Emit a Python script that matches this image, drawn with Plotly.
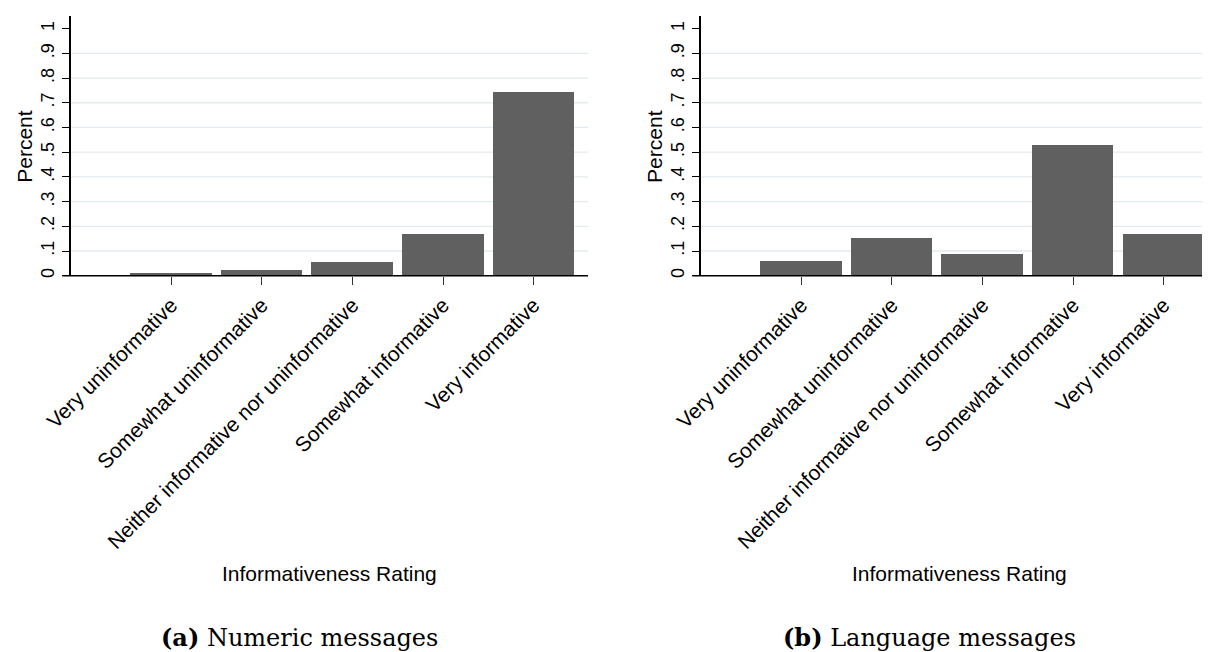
import plotly.graph_objects as go

# ---------------- data ----------------
categories = [
    "Very uninformative",
    "Somewhat uninformative",
    "Neither informative nor uninformative",
    "Somewhat informative",
    "Very informative",
]
numeric_share = [0.008, 0.023, 0.055, 0.169, 0.744]
language_share = [0.059, 0.152, 0.088, 0.529, 0.169]

y_tick_values = [0, 0.1, 0.2, 0.3, 0.4, 0.5, 0.6, 0.7, 0.8, 0.9, 1.0]
y_tick_labels = ["0", ".1", ".2", ".3", ".4", ".5", ".6", ".7", ".8", ".9", "1"]

x_title = "Informativeness Rating"
y_title = "Percent"
panel_captions = ["<b>(a)</b> Numeric messages", "<b>(b)</b> Language messages"]

# ---------------- layout constants ----------------
W, H = 1210, 652
BAR_COLOR = "#606060"
GRID_COLOR = "#e3ebee"
SANS = "Liberation Sans, Arial, Helvetica, sans-serif"
SERIF = "DejaVu Serif, serif"

positions = list(range(1, len(categories) + 1))

x_domains = [[63.3 / W, 580.0 / W], [693.4 / W, 1.0]]
y_domain = [1 - 267.7 / H, 1 - 8.3 / H]
x_range = [-0.104, 5.6]
y_range = [0, 1.05]

fig = go.Figure()

series = [numeric_share, language_share]
for i, vals in enumerate(series):
    suffix = "" if i == 0 else str(i + 1)
    fig.add_trace(
        go.Bar(
            x=positions,
            y=vals,
            width=0.9,
            marker=dict(color=BAR_COLOR, line=dict(width=0)),
            xaxis="x" + suffix,
            yaxis="y" + suffix,
            showlegend=False,
            hoverinfo="skip",
        )
    )

axis_common_x = dict(
    range=x_range,
    automargin=False,
    tickmode="array",
    tickvals=positions,
    ticktext=categories,
    tickangle=-45,
    ticks="outside",
    ticklen=8,
    tickwidth=1.3,
    tickcolor="#333333",
    showline=False,
    showgrid=False,
    zeroline=False,
    tickfont=dict(family=SANS, size=21, color="#000000"),
    fixedrange=True,
)
axis_common_y = dict(
    range=y_range,
    automargin=False,
    domain=y_domain,
    tickmode="array",
    tickvals=y_tick_values,
    ticktext=y_tick_labels,
    tickangle=-90,
    ticks="outside",
    ticklen=8,
    tickwidth=1.3,
    tickcolor="#000000",
    showline=True,
    linecolor="#000000",
    linewidth=1.5,
    showgrid=False,
    zeroline=False,
    tickfont=dict(family=SANS, size=18, color="#000000"),
    fixedrange=True,
)

fig.update_layout(
    template="none",
    width=W,
    height=H,
    margin=dict(l=0, r=0, t=0, b=0, pad=0),
    paper_bgcolor="white",
    plot_bgcolor="white",
    bargap=0,
    xaxis=dict(domain=x_domains[0], anchor="y", **axis_common_x),
    yaxis=dict(anchor="x", **axis_common_y),
    xaxis2=dict(domain=x_domains[1], anchor="y2", **axis_common_x),
    yaxis2=dict(anchor="x2", **axis_common_y),
)

shapes = []
annotations = []
for i in range(2):
    suffix = "" if i == 0 else str(i + 1)
    xr = "x" + suffix + " domain"
    yr = "y" + suffix
    # horizontal gridlines (interior ticks only)
    for v in y_tick_values[1:-1]:
        shapes.append(
            dict(type="line", xref=xr, yref=yr, x0=0, x1=1, y0=v, y1=v,
                 line=dict(color=GRID_COLOR, width=1.3), layer="below")
        )
    # x axis line (extends slightly left of the y axis)
    x0_ext = -9.0 / ((x_domains[i][1] - x_domains[i][0]) * W)
    shapes.append(
        dict(type="line", xref=xr, yref="y" + suffix + " domain", x0=x0_ext, x1=1, y0=0, y1=0,
             line=dict(color="#000000", width=1.5), layer="above")
    )
    # axis titles
    cx = (x_domains[i][0] + x_domains[i][1]) / 2
    annotations.append(
        dict(text=x_title, xref="paper", yref="paper", x=cx, y=1 - 565.0 / H,
             xanchor="center", yanchor="middle", showarrow=False,
             font=dict(family=SANS, size=21, color="#000000"))
    )
    annotations.append(
        dict(text=y_title, xref="paper", yref="paper",
             x=(x_domains[i][0] * W - 47.5) / W, y=(y_domain[0] + y_domain[1]) / 2,
             xanchor="center", yanchor="middle", textangle=-90, showarrow=False,
             font=dict(family=SANS, size=21, color="#000000"))
    )

caption_x = [291.0 / W, 921.0 / W]
for i, cap in enumerate(panel_captions):
    annotations.append(
        dict(text=cap, xref="paper", yref="paper", x=caption_x[i], y=1 - 629.0 / H,
             xanchor="center", yanchor="middle", showarrow=False,
             font=dict(family=SERIF, size=24, color="#000000"))
    )

fig.update_layout(shapes=shapes, annotations=annotations)

fig.write_html("out.html")
